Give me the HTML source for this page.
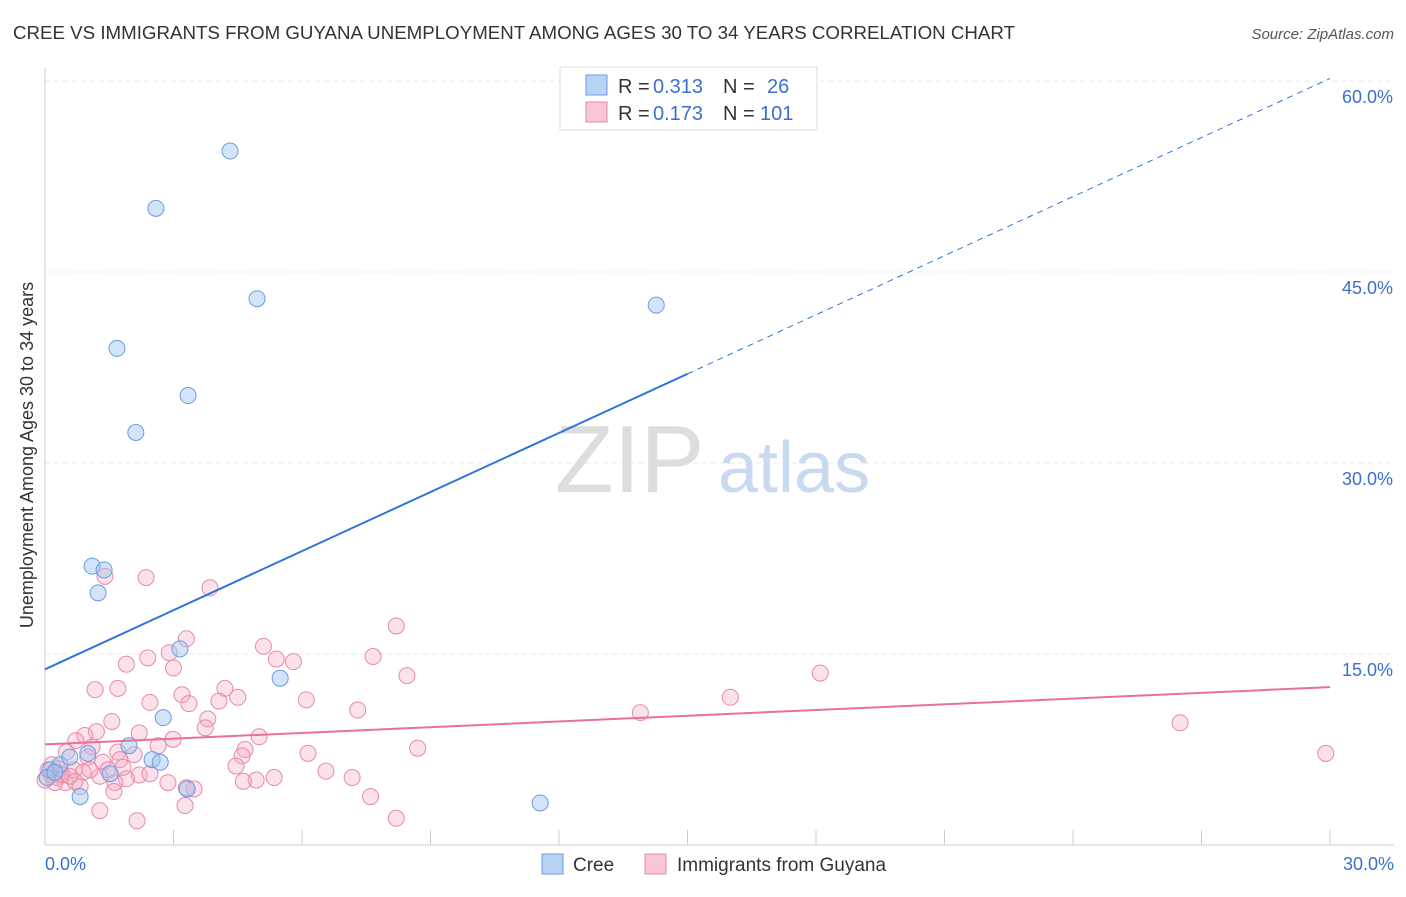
<!DOCTYPE html>
<html><head><meta charset="utf-8"><style>
body{margin:0;background:#fff;font-family:"Liberation Sans",sans-serif}
svg text{font-family:"Liberation Sans",sans-serif}
</style></head><body>
<svg id="chart" width="1406" height="892">
<text x="13" y="39" font-size="18" fill="#333" textLength="1002" lengthAdjust="spacingAndGlyphs">CREE VS IMMIGRANTS FROM GUYANA UNEMPLOYMENT AMONG AGES 30 TO 34 YEARS CORRELATION CHART</text>
<text x="1394" y="39" font-size="15" fill="#555" font-style="italic" text-anchor="end">Source: ZipAtlas.com</text>
<text x="33" y="455" font-size="18" fill="#333" text-anchor="middle" transform="rotate(-90 33 455)">Unemployment Among Ages 30 to 34 years</text>
<g id="grid"></g>
<text x="555" y="492" font-size="96" fill="#ddd" font-family="Liberation Serif">ZIP</text>
<text x="718" y="492" font-size="72" fill="#c8d9f0">atlas</text>
<g id="marks"></g>
<g>
<rect x="560" y="67" width="257" height="63" fill="#fff" stroke="#ddd"/>
<rect x="586" y="75" width="21" height="20" fill="#b9d3f5" stroke="#6b9be0"/>
<rect x="586" y="102" width="21" height="20" fill="#f9c6d5" stroke="#e88aa8"/>
<text x="618" y="93" font-size="20" fill="#333">R =</text>
<text x="653" y="93" font-size="20" fill="#3a6fd0">0.313</text>
<text x="723" y="93" font-size="20" fill="#333">N =</text>
<text x="767" y="93" font-size="20" fill="#3a6fd0">26</text>
<text x="618" y="120" font-size="20" fill="#333">R =</text>
<text x="653" y="120" font-size="20" fill="#3a6fd0">0.173</text>
<text x="723" y="120" font-size="20" fill="#333">N =</text>
<text x="760" y="120" font-size="20" fill="#3a6fd0">101</text>
</g>
<g>
<rect x="542" y="854" width="21" height="20" fill="#b9d3f5" stroke="#6b9be0"/>
<text x="573" y="871" font-size="19" fill="#333">Cree</text>
<rect x="645" y="854" width="21" height="20" fill="#f9c6d5" stroke="#e88aa8"/>
<text x="677" y="871" font-size="19" fill="#333">Immigrants from Guyana</text>
</g>
</svg>
<script>
const yTicks=[15,30,45,60];
const yTickLabels=["15.0%","30.0%","45.0%","60.0%"];
const creeX=[4.32,2.59,4.95,14.27,1.68,3.34,2.12,1.10,1.38,1.24,3.15,5.49,2.76,1.96,1.52,2.50,2.69,0.82,11.56,3.32,0.12,0.35,0.58,1.0,0.05,0.23];
const creeY=[54.5,50.0,42.9,42.4,39.0,35.3,32.4,21.9,21.6,19.8,15.4,13.1,10.0,7.8,5.6,6.7,6.5,3.8,3.3,4.4,5.9,6.3,6.9,7.2,5.3,5.7];
const guyX=[2.36,1.4,3.85,8.2,3.3,5.1,2.9,2.4,7.66,5.8,5.4,1.9,3.0,18.1,8.45,1.17,1.7,4.2,3.2,16.0,4.5,2.45,4.06,3.36,6.1,7.3,13.9,3.8,1.56,26.5,3.74,1.2,0.93,2.2,2.99,5.0,0.72,2.64,1.1,8.7,4.67,1.7,29.9,6.14,2.08,0.5,1.0,4.6,1.75,1.35,4.46,6.56,0.68,0.35,0.16,0.28,0.89,2.2,2.45,1.28,1.9,5.35,7.17,4.93,4.63,0.47,2.87,1.63,3.3,3.48,0.82,7.6,1.61,3.27,1.28,8.2,2.15,0.0,0.07,0.3,0.16,0.4,0.58,0.7,1.05,1.47,1.82,0.23];
const guyY=[21.0,21.1,20.2,17.2,16.2,15.6,15.1,14.7,14.8,14.4,14.6,14.2,13.9,13.5,13.3,12.2,12.3,12.3,11.8,11.6,11.6,11.2,11.3,11.1,11.4,10.6,10.4,9.9,9.7,9.6,9.2,8.9,8.6,8.8,8.3,8.5,8.2,7.8,7.7,7.6,7.5,7.3,7.2,7.2,7.1,7.3,6.9,7.0,6.7,6.5,6.2,5.8,5.9,5.6,5.5,5.3,5.7,5.5,5.6,5.4,5.2,5.3,5.3,5.1,5.0,4.9,4.9,4.9,4.5,4.4,4.6,3.8,4.2,3.1,2.7,2.1,1.9,5.1,5.9,6.0,6.3,5.5,5.4,5.0,5.9,5.9,6.1,4.9];
const creeTrend=[13.8,37.0,60.2];
const guyTrend=[7.9,12.4];
const NS='http://www.w3.org/2000/svg';
const xs=v=>45+v*(1285/30);
const ys=v=>845-v*(764/60);
function mk(t,a,p){const e=document.createElementNS(NS,t);for(const k in a)e.setAttribute(k,a[k]);p.appendChild(e);return e;}
const grid=document.getElementById('grid'),marks=document.getElementById('marks');
yTicks.forEach((t,i)=>{
 const l=mk('line',{x1:45,x2:1394,y1:ys(t),y2:ys(t),stroke:'#ebebeb','stroke-dasharray':'5,4'},grid);
 
 
 const tx=mk('text',{x:1393,y:ys(t)+22,'font-size':18,fill:'#3a6fd0','text-anchor':'end'},grid);
 tx.textContent=yTickLabels[i];
 
 
});
mk('line',{x1:45,x2:45,y1:68,y2:845,stroke:'#ccc'},grid);
mk('line',{x1:45,x2:1394,y1:845,y2:845,stroke:'#ccc'},grid);
for(let i=1;i<=10;i++){const x=45+i*128.5;mk('line',{x1:x,x2:x,y1:830,y2:845,stroke:'#ccc'},grid);}
let t0=mk('text',{x:45,y:870,'font-size':18,fill:'#3a6fd0'},grid);t0.textContent='0.0%';


let t1=mk('text',{x:1394,y:870,'font-size':18,fill:'#3a6fd0','text-anchor':'end'},grid);t1.textContent='30.0%';


guyX.forEach((v,i)=>{const c=mk('circle',{cx:xs(v),cy:ys(guyY[i]),r:8,fill:'rgba(244,170,195,0.35)',stroke:'#e88aa8','stroke-width':1},marks);
 
 });
creeX.forEach((v,i)=>{const c=mk('circle',{cx:xs(v),cy:ys(creeY[i]),r:8,fill:'rgba(160,195,240,0.45)',stroke:'#6b9be0','stroke-width':1},marks);
 
 });
let a=mk('line',{x1:xs(0),y1:ys(creeTrend[0]),x2:xs(15),y2:ys(creeTrend[1]),stroke:'#2f74d8','stroke-width':2},marks);


let b=mk('line',{x1:xs(15),y1:ys(creeTrend[1]),x2:xs(30),y2:ys(creeTrend[2]),stroke:'#2f74d8','stroke-width':1,'stroke-dasharray':'6,5'},marks);


let g=mk('line',{x1:xs(0),y1:ys(guyTrend[0]),x2:xs(30),y2:ys(guyTrend[1]),stroke:'#e8709a','stroke-width':2},marks);


</script>
</body></html>
